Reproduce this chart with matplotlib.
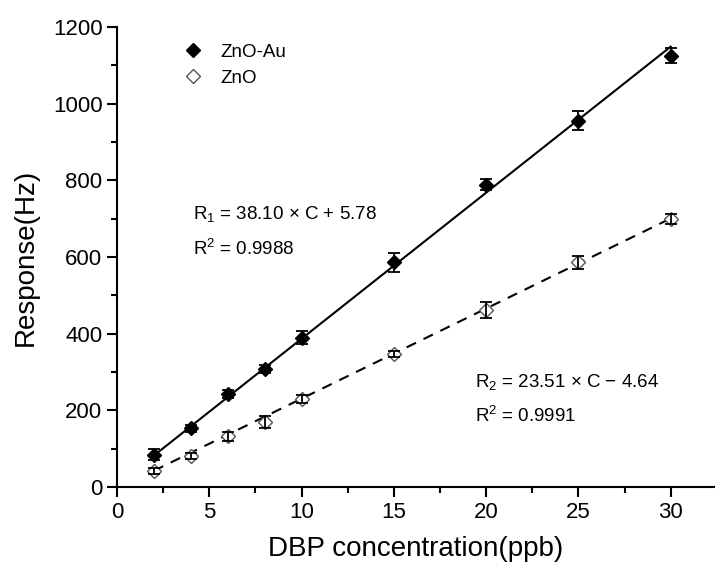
import numpy as np
import matplotlib.pyplot as plt
from matplotlib.lines import Line2D

plt.rcParams['font.family'] = ['Liberation Sans', 'DejaVu Sans']
plt.rcParams['mathtext.fontset'] = 'custom'
plt.rcParams['mathtext.rm'] = 'Liberation Sans'
plt.rcParams['mathtext.it'] = 'Liberation Sans'

# data
conc = [2, 4, 6, 8, 10, 15, 20, 25, 30]
znoau = [84, 153, 243, 307, 390, 586, 789, 956, 1125]
znoau_err = [14, 10, 10, 10, 16, 24, 15, 24, 20]
zno = [42, 80, 132, 170, 229, 346, 462, 586, 700]
zno_err = [8, 8, 12, 16, 10, 8, 20, 17, 13]

# linear fits as printed on the chart
fit1 = (38.10, 5.78)
fit2 = (23.51, -4.64)

fig = plt.figure(figsize=(7.15, 5.72), dpi=100)
ax = fig.add_axes([0.1636, 0.1486, 0.8364, 0.8042])

xf = np.array([conc[0], conc[-1]])
ax.plot(xf, fit1[0] * xf + fit1[1], color='black', lw=1.5, zorder=2)
ax.plot(xf, fit2[0] * xf + fit2[1], color='black', lw=1.5, ls=(0, (5, 4)), zorder=2)

# markers
ax.plot(conc, znoau, 'D', ms=7.2, mfc='black', mec='black', zorder=3)
ax.plot(conc, zno, 'D', ms=7.2, mfc='white', mec='#555555', mew=1.0, zorder=3)

# error bars on top
ax.errorbar(conc, znoau, yerr=znoau_err, fmt='none', ecolor='black',
            elinewidth=1.3, capsize=4, capthick=1.3, zorder=4)
ax.errorbar(conc, zno, yerr=zno_err, fmt='none', ecolor='black',
            elinewidth=1.3, capsize=4, capthick=1.3, zorder=4)

ax.set_xlim(0, 32.4)
ax.set_ylim(0, 1200)
ax.set_xticks([0, 5, 10, 15, 20, 25, 30])
ax.set_xticks(np.arange(2.5, 32, 5), minor=True)
ax.set_yticks(np.arange(0, 1201, 200))
ax.set_yticks(np.arange(100, 1200, 200), minor=True)

for s in ['top', 'right']:
    ax.spines[s].set_visible(False)
for s in ['left', 'bottom']:
    ax.spines[s].set_linewidth(1.5)

ax.tick_params(which='major', direction='out', length=7, width=1.5, labelsize=16)
ax.tick_params(which='minor', direction='out', length=4, width=1.5)

ax.set_xlabel('DBP concentration(ppb)', fontsize=20, labelpad=10)
ax.set_ylabel('Response(Hz)', fontsize=20, labelpad=10)

handles = [
    Line2D([], [], ls='none', marker='D', ms=7.2, mfc='black', mec='black'),
    Line2D([], [], ls='none', marker='D', ms=7.2, mfc='white', mec='#555555', mew=1.0),
]
ax.legend(handles, ['ZnO-Au', 'ZnO'], loc='upper left', bbox_to_anchor=(0.075, 1.0),
          frameon=False, fontsize=13.5, handletextpad=0.7, labelspacing=0.45,
          handlelength=1.5)

ax.text(4.1, 698, r'R$_1$ = 38.10 $\times$ C + 5.78', fontsize=13.5)
ax.text(4.1, 604, r'R$^2$ = 0.9988', fontsize=13.5)
ax.text(19.4, 262, r'R$_2$ = 23.51 $\times$ C $-$ 4.64', fontsize=13.5)
ax.text(19.4, 170, r'R$^2$ = 0.9991', fontsize=13.5)

fig.savefig('out.png', dpi=100)
